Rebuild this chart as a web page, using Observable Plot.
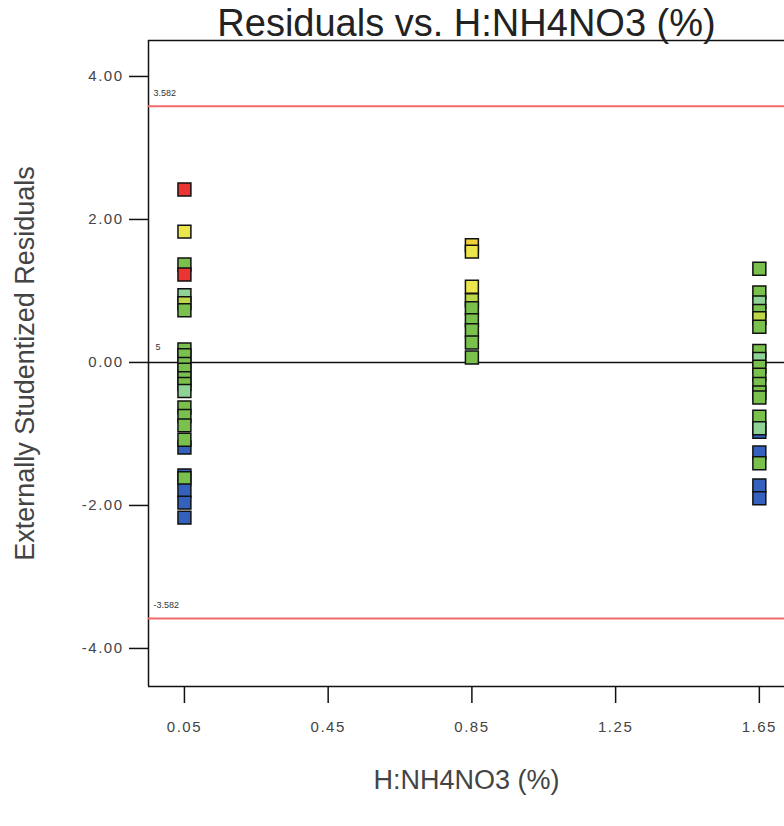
<!DOCTYPE html>
<html>
<head>
<meta charset="utf-8">
<script src="https://cdn.jsdelivr.net/npm/d3@7"></script>
<script src="https://cdn.jsdelivr.net/npm/@observablehq/plot@0.6"></script>
<style>
  html, body { margin: 0; padding: 0; background: #fff; overflow: hidden; }
  #chart svg { display: block; }
  #chart svg g[aria-label="y-axis tick label"] text,
  #chart svg g[aria-label="x-axis tick label"] text { letter-spacing: 1.5px; }
</style>
</head>
<body>
<div id="chart"></div>
<script>
// ---- data ----
const xTicks = [0.05, 0.45, 0.85, 1.25, 1.65];
const yTicks = [-4, -2, 0, 2, 4];
const xDomain = [-0.05, 1.72];
const yDomain = [-4.532, 4.503];
const limit = 3.582;
const limitLabels = ["3.582", "-3.582"];

const colorNames = ["blue", "green", "mint", "olive", "yellow", "gold", "red"];
const colorHex   = ["#3461bd", "#79c04d", "#8fd296", "#bcd84a", "#ece64c", "#f2d23a", "#ec3434"];

// H:NH4NO3 = 0.05
const resid005 = [2.42, 1.83, 1.37, 1.23, 0.94, 0.83, 0.73,
                  0.18, 0.10, -0.02, -0.10, -0.22, -0.30, -0.40,
                  -0.63, -0.75, -0.88, -1.19, -1.08,
                  -1.58, -1.62, -1.79, -1.96, -2.17];
const color005 = ["red", "yellow", "green", "red", "mint", "olive", "green",
                  "green", "green", "green", "green", "green", "green", "mint",
                  "green", "green", "green", "blue", "green",
                  "blue", "green", "blue", "blue", "blue"];
// H:NH4NO3 = 0.85
const resid085 = [1.64, 1.55, 1.06, 0.87, 0.76, 0.59, 0.45, 0.28, 0.07];
const color085 = ["gold", "yellow", "yellow", "olive", "green", "green", "green", "green", "green"];
// H:NH4NO3 = 1.65
const resid165 = [1.31, 0.98, 0.84, 0.72, 0.62, 0.50,
                  0.16, 0.05, -0.06, -0.17, -0.30, -0.42, -0.49,
                  -0.76, -0.97, -0.92, -1.26, -1.41, -1.72, -1.90];
const color165 = ["green", "green", "mint", "green", "olive", "green",
                  "green", "mint", "green", "green", "green", "green", "green",
                  "green", "blue", "mint", "blue", "green", "blue", "blue"];

const xLevels = [0.05, 0.85, 1.65];
const residSets = [resid005, resid085, resid165];
const colorSets = [color005, color085, color165];

const points = [];
xLevels.forEach((xv, i) => {
  residSets[i].forEach((r, j) => points.push({x: xv, y: r, c: colorSets[i][j]}));
});

const chart = Plot.plot({
  width: 784,
  height: 826,
  marginLeft: 148,
  marginRight: 0,
  marginTop: 40,
  marginBottom: 140,
  style: {fontFamily: "'Liberation Sans', Arial, sans-serif", background: "#fff", color: "#333"},
  x: {domain: xDomain},
  y: {domain: yDomain},
  color: {type: "ordinal", domain: colorNames, range: colorHex},
  marks: [
    // frame (top, left, bottom)
    Plot.ruleY([yDomain[0], yDomain[1]], {stroke: "#111", strokeWidth: 1.5}),
    Plot.ruleX([xDomain[0]], {stroke: "#111", strokeWidth: 1.5}),
    // limit lines
    Plot.ruleY([limit, -limit], {stroke: "#f06a6a", strokeWidth: 2}),
    Plot.ruleY([0], {stroke: "#111", strokeWidth: 1.5}),
    Plot.text([limit, -limit], {x: () => xDomain[0], y: d => d, text: (d, i) => limitLabels[i],
      dx: 5, dy: -13, textAnchor: "start", fontSize: 9, fill: "#333"}),
    Plot.text([0], {x: () => xDomain[0], y: d => d, text: () => "5",
      dx: 7, dy: -15, textAnchor: "start", fontSize: 9, fill: "#333"}),
    Plot.axisY({ticks: yTicks, tickFormat: d => d.toFixed(2), tickSize: 19, tickPadding: 6,
      fontSize: 15, label: null, stroke: "#111", strokeWidth: 1.5, fill: "#444"}),
    Plot.axisX({ticks: xTicks, tickFormat: d => d.toFixed(2), tickSize: 17, tickPadding: 18,
      fontSize: 15, label: null, stroke: "#111", strokeWidth: 1.5, fill: "#444"}),
    Plot.dot(points, {x: "x", y: "y", fill: "c", symbol: "square", r: 7.3,
      stroke: "#111", strokeWidth: 1.5}),
    // titles
    Plot.text(["Residuals vs. H:NH4NO3 (%)"], {frameAnchor: "top", text: d => d,
      lineAnchor: "bottom", dy: -5, fontSize: 38, fill: "#222"}),
    Plot.text(["Externally Studentized Residuals"], {frameAnchor: "left", text: d => d,
      textAnchor: "middle", dx: -123, rotate: -90, fontSize: 27, fill: "#444"}),
    Plot.text(["H:NH4NO3 (%)"], {frameAnchor: "bottom", text: d => d,
      textAnchor: "middle", dy: 102, fontSize: 27, fill: "#444"})
  ]
});
document.getElementById("chart").appendChild(chart);
</script>
</body>
</html>
